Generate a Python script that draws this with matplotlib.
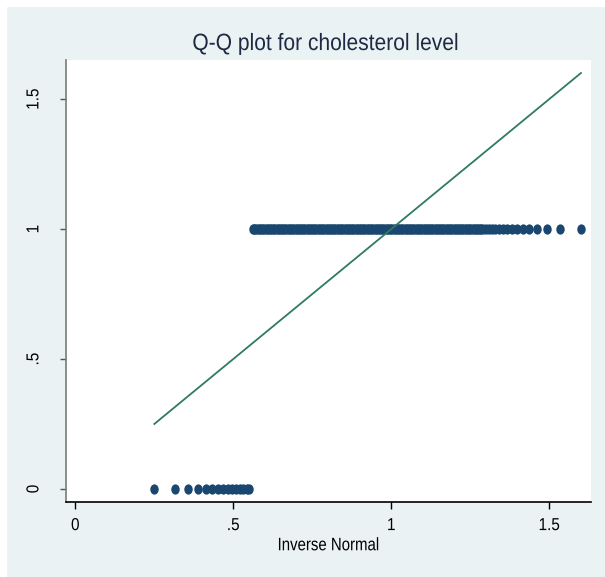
"""Q-Q plot for cholesterol level (Stata qnorm style)."""

import matplotlib
matplotlib.use("Agg")
import matplotlib.pyplot as plt
from matplotlib.patches import Rectangle
from matplotlib.patheffects import AbstractPathEffect
from matplotlib.path import Path
from matplotlib.transforms import Affine2D

plt.rcParams["font.family"] = ["Liberation Sans", "DejaVu Sans"]

# inverse-normal quantiles
x_zero = [0.249, 0.315, 0.357, 0.388, 0.413, 0.434, 0.452, 0.468,
          0.483, 0.497, 0.509, 0.521, 0.532, 0.542, 0.551]
x_one = [0.561, 0.565, 0.570, 0.575, 0.580, 0.585, 0.590, 0.595, 0.600, 0.605,
         0.610, 0.615, 0.620, 0.625, 0.630, 0.635, 0.640, 0.645, 0.650, 0.655,
         0.660, 0.665, 0.670, 0.675, 0.680, 0.685, 0.690, 0.695, 0.700, 0.705,
         0.710, 0.715, 0.720, 0.725, 0.730, 0.735, 0.740, 0.745, 0.750, 0.755,
         0.760, 0.765, 0.770, 0.775, 0.780, 0.785, 0.790, 0.795, 0.800, 0.805,
         0.810, 0.815, 0.820, 0.825, 0.830, 0.835, 0.840, 0.845, 0.850, 0.855,
         0.860, 0.865, 0.870, 0.875, 0.880, 0.885, 0.890, 0.895, 0.900, 0.905,
         0.910, 0.915, 0.920, 0.925, 0.930, 0.935, 0.940, 0.945, 0.950, 0.955,
         0.960, 0.965, 0.970, 0.975, 0.980, 0.985, 0.990, 0.995, 1.000, 1.005,
         1.010, 1.015, 1.020, 1.025, 1.030, 1.035, 1.040, 1.045, 1.050, 1.055,
         1.060, 1.065, 1.070, 1.075, 1.080, 1.085, 1.090, 1.095, 1.100, 1.105,
         1.110, 1.115, 1.120, 1.125, 1.130, 1.135, 1.140, 1.145, 1.150, 1.155,
         1.160, 1.165, 1.170, 1.175, 1.180, 1.185, 1.190, 1.195, 1.200, 1.205,
         1.210, 1.215, 1.220, 1.225, 1.230, 1.235, 1.240, 1.245, 1.250, 1.255,
         1.260, 1.265, 1.270, 1.275, 1.280, 1.285, 1.290, 1.299, 1.308, 1.318,
         1.329, 1.341, 1.353, 1.367, 1.382, 1.398, 1.416, 1.437, 1.462, 1.493,
         1.535, 1.600]
y_zero = [0] * len(x_zero)
y_one = [1] * len(x_one)

# reference line (y = x over the range of the quantiles)
line_x = [0.25, 1.60]
line_y = [0.25, 1.60]

x_ticks = [0, 0.5, 1, 1.5]
x_ticklabels = ["0", ".5", "1", "1.5"]
y_ticks = [0, 0.5, 1, 1.5]
y_ticklabels = ["0", ".5", "1", "1.5"]

BG = "#EAF2F3"
NAVY = "#1A476F"
GREEN = "#2F7A62"
TEXT = "#1E2A44"


class Narrow(AbstractPathEffect):
    """Squeeze glyphs horizontally (about the text centre), like the original export."""

    def __init__(self, sx):
        super().__init__()
        self.sx = sx

    def draw_path(self, renderer, gc, tpath, affine, rgbFace=None):
        v = tpath.vertices
        c = (v[:, 0].min() + v[:, 0].max()) / 2
        t = Affine2D().translate(-c, 0).scale(self.sx, 1).translate(c, 0) + affine
        renderer.draw_path(gc, tpath, t, rgbFace)


narrow = [Narrow(0.88)]

# slightly tall dots, as in the original picture
dot = Path.unit_circle().transformed(Affine2D().scale(0.82, 1.0))

fig = plt.figure(figsize=(6.05, 5.77), dpi=100, facecolor=BG)
# thin white margin at top and left, as in the original export
fig.patches.append(Rectangle((0, 0.9896), 1, 0.0104, transform=fig.transFigure,
                             color="white", zorder=-1))
fig.patches.append(Rectangle((0, 0), 0.0099, 1, transform=fig.transFigure,
                             color="white", zorder=-1))

ax = fig.add_axes([0.1086, 0.1305, 0.8684, 0.7655])
ax.set_facecolor("white")

ax.plot(x_zero, y_zero, linestyle="none", marker=dot, color=NAVY,
        markersize=7.4, markeredgewidth=0)
ax.plot(x_one, y_one, linestyle="none", marker=dot, color=NAVY,
        markersize=7.4, markeredgewidth=0)
ax.plot(line_x, line_y, color=GREEN, linewidth=1.3)

ax.set_xlim(-0.0304, 1.632)
ax.set_ylim(-0.049, 1.65)

ax.set_xticks(x_ticks)
ax.set_xticklabels(x_ticklabels)
ax.set_yticks(y_ticks)
ax.set_yticklabels(y_ticklabels, rotation=90, va="center")

for s in ["top", "right"]:
    ax.spines[s].set_visible(False)
ax.spines["left"].set_color("#7A7A7A")
ax.spines["bottom"].set_color("black")
ax.spines["left"].set_linewidth(1.2)
ax.spines["bottom"].set_linewidth(1.2)

ax.tick_params(axis="x", length=4.8, width=1, color="black",
               labelsize=12.5, labelcolor="black", pad=7)
ax.tick_params(axis="y", length=4.5, width=1, color="#555555",
               labelsize=12.5, labelcolor="black", pad=13)
for lab in ax.get_xticklabels() + ax.get_yticklabels():
    lab.set_path_effects(narrow)

xl = ax.set_xlabel("Inverse Normal", fontsize=13, color="black", labelpad=3)
xl.set_path_effects([Narrow(0.83)])
title = fig.text(0.539, 0.9133, "Q-Q plot for cholesterol level", ha="center",
                 va="baseline", fontsize=17, color=TEXT)
title.set_path_effects([Narrow(0.89)])

fig.savefig("out.png", dpi=100, facecolor=BG)
